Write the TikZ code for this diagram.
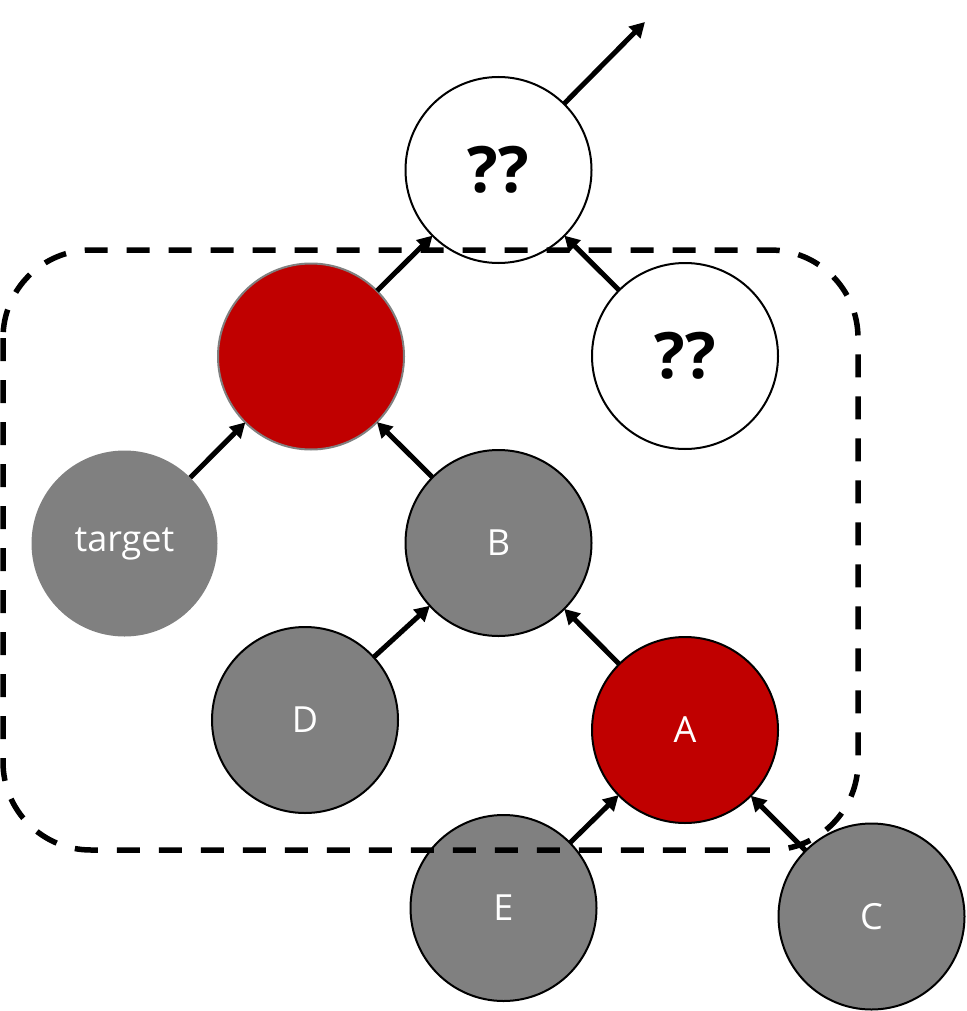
\documentclass[tikz,border=0pt]{standalone}
\usepackage{fontspec}
\setmainfont{Open Sans}
\usetikzlibrary{arrows.meta}
\definecolor{myred}{HTML}{C00000}
\definecolor{mygray}{HTML}{808080}
\begin{document}
\begin{tikzpicture}[x=1pt,y=-1pt,
  nd/.style={circle,minimum size=186pt,inner sep=0pt,outer sep=0pt,line width=2pt,font=\fontsize{36}{40}\selectfont},
  graynd/.style={nd,fill=mygray,draw=black,text=white},
  rednd/.style={nd,fill=myred,draw=black,text=white},
  whitend/.style={nd,fill=white,draw=black,font=\fontsize{64}{68}\selectfont\bfseries},
  arr/.style={line width=5pt,-{Triangle[length=15pt,width=16pt]}},
  region/.style={line width=5.5pt,dash pattern=on 23pt off 19pt,rounded corners=88pt}]
\useasboundingbox (0,0) rectangle (966,1011);
\node[whitend] (top) at (498.5,170) {??};
\node[nd,fill=myred,draw=mygray] (red) at (311,356.5) {};
\node[whitend] (qr) at (685,356) {??};
\node[nd,fill=mygray,text=white] (target) at (124.5,543.5) {target};
\node[graynd] (B) at (498.5,543) {B};
\node[graynd] (D) at (305,720) {D};
\node[rednd] (A) at (685,730) {A};
\node[graynd] (E) at (503.5,908) {E};
\coordinate (out) at (645,22);
\draw[region] (3,250) rectangle (858,850);
\node[graynd] (C) at (871.5,916.5) {C};
\draw[arr] (top) -- (out);
\draw[arr] (red) -- (top);
\draw[arr] (qr) -- (top);
\draw[arr] (target) -- (red);
\draw[arr] (B) -- (red);
\draw[arr] (D) -- (B);
\draw[arr] (A) -- (B);
\draw[arr] (E) -- (A);
\draw[arr] (C) -- (A);
\end{tikzpicture}
\end{document}
